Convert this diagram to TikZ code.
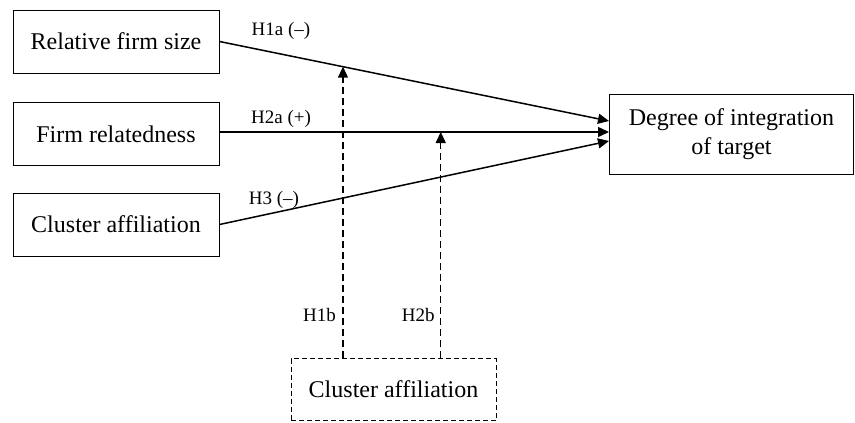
\documentclass[tikz,border=0pt]{standalone}
\usepackage{fontspec}
\setmainfont{Liberation Serif}
\usetikzlibrary{calc,arrows.meta}
\tikzset{
	box/.style={draw, line width=1pt, minimum width=206pt, minimum height=63pt, inner sep=0pt, font=\fontsize{24}{29}\selectfont},
	link/.style={line width=1.5pt, -{Triangle[length=11pt,width=10pt]}},
	modlink/.style={link, dash pattern=on 7pt off 4pt},
	hyp/.style={inner sep=0pt, font=\fontsize{19}{22}\selectfont}
}

\begin{document}
\begin{tikzpicture}[x=1pt,y=-1pt]
	\useasboundingbox (0,0) rectangle (855,423);
	\node[box] (size) at (116,41.5) {Relative firm size};
	\node[box] (rel) at (116,134) {Firm relatedness};
	\node[box] (clus) at (116,224.5) {Cluster affiliation};
	\node[box, minimum width=244pt, minimum height=80pt, align=center] (deg) at (731.5,134) {Degree of integration\\of target};
	\node[box, minimum width=205pt, minimum height=62pt, dash pattern=on 5pt off 3pt] (mod) at (393.5,389.5) {Cluster affiliation};

	\coordinate (t1) at ([yshift=13pt]deg.west);
	\coordinate (t2) at ([yshift=2pt]deg.west);
	\coordinate (t3) at ([yshift=-7pt]deg.west);
	\coordinate (m1) at ($(size.east)!0.317!(t1)$);
	\coordinate (m2) at ($(rel.east |- t2)!0.568!(t2)$);

	\draw[link] (size.east) -- (t1);
	\draw[link] (rel.east |- t2) -- (t2);
	\draw[link] (clus.east) -- (t3);
	\draw[modlink] (mod.north -| m1) -- (m1);
	\draw[modlink] (mod.north -| m2) -- (m2);

	\node[hyp] (h1a) at (281,31) {H1a (--)};
	\node[hyp] (h2a) at (281,119) {H2a (+)};
	\node[hyp] (h3) at (274,200) {H3 (--)};
	\node[hyp, anchor=east] (h1b) at ([xshift=-7pt]m1 |- 0,315) {H1b};
	\node[hyp, anchor=east] (h2b) at ([xshift=-6pt]m2 |- 0,315) {H2b};
\end{tikzpicture}
\end{document}
